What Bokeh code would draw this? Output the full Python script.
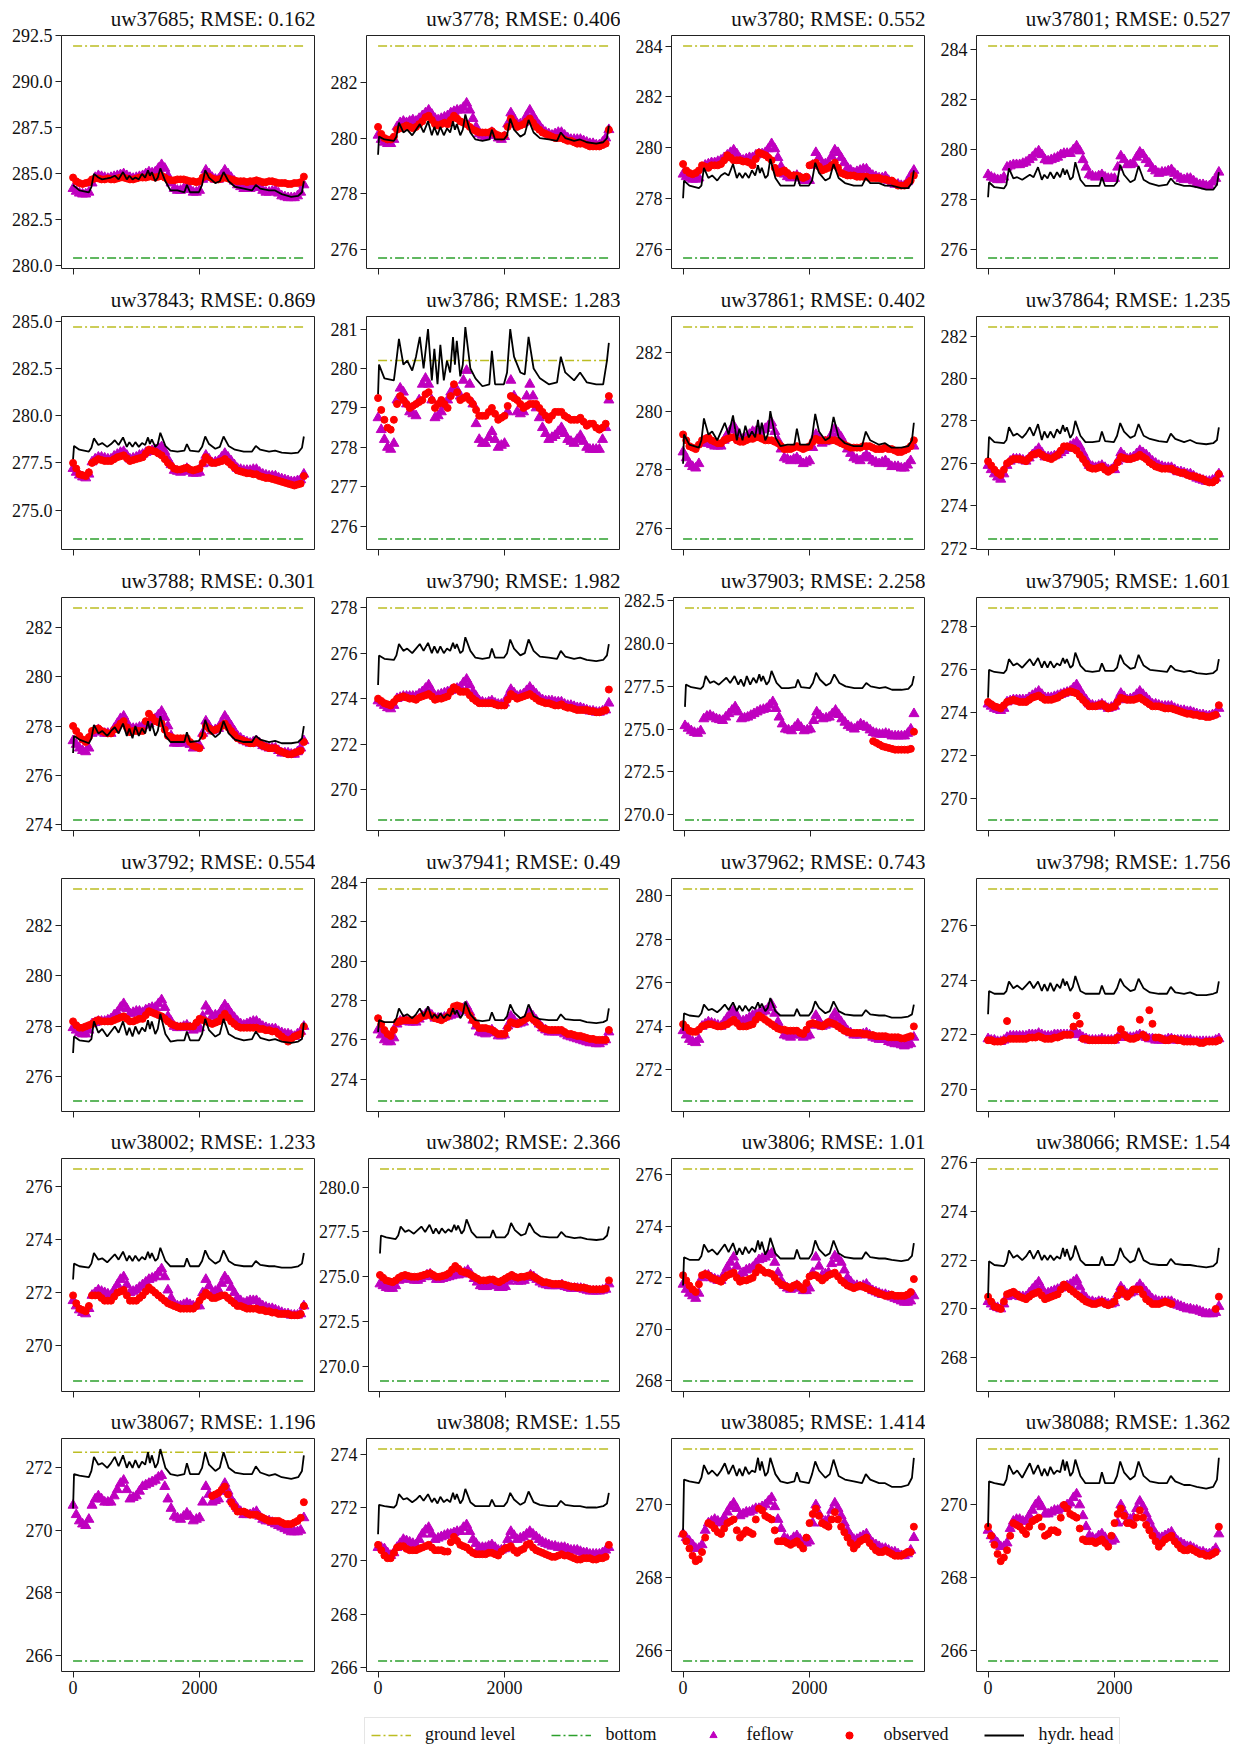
import math

from bokeh.embed import file_html
from bokeh.layouts import column, row
from bokeh.models import (CustomJSTickFormatter, FixedTicker, Legend, LegendItem,
                          PrintfTickFormatter, Range1d)
from bokeh.plotting import figure
from bokeh.resources import INLINE

nan = float("nan")

# ---------------------------------------------------------------- time axes (days)
T_HEAD = [0, 15, 100, 250, 290, 330, 400, 460, 540, 600,
          660, 720, 790, 850, 890, 940, 985, 1040, 1090, 1140,
          1185, 1215, 1245, 1300, 1340, 1380, 1460, 1540, 1650, 1760,
          1800, 1850, 1990, 2040, 2090, 2150, 2250, 2320, 2380, 2460,
          2560, 2700, 2830, 2890, 2960, 3100, 3195, 3300, 3450, 3560,
          3620, 3650]

T_PTS = [0, 100, 200, 300, 400, 500, 600, 700, 800, 900,
         1000, 1100, 1200, 1300, 1400, 1500, 1600, 1700, 1800, 1900,
         2000, 2100, 2200, 2300, 2400, 2500, 2600, 2700, 2800, 2900,
         3000, 3100, 3200, 3300, 3400, 3500, 3600, 3650]

T_MID = [50, 150, 250, 350, 450, 550, 650, 750, 850, 950,
         1050, 1150, 1250, 1350, 1450, 1550, 1650, 1750, 1850, 1950,
         2050, 2150, 2250, 2350, 2450, 2550, 2650, 2750, 2850, 2950,
         3050, 3150, 3250, 3350, 3450, 3550]

# ---------------------------------------------------------------- wells
WELLS = ["uw37685", "uw3778", "uw3780", "uw37801",
         "uw37843", "uw3786", "uw37861", "uw37864",
         "uw3788", "uw3790", "uw37903", "uw37905",
         "uw3792", "uw37941", "uw37962", "uw3798",
         "uw38002", "uw3802", "uw3806", "uw38066",
         "uw38067", "uw3808", "uw38085", "uw38088"]

RMSE = ["0.162", "0.406", "0.552", "0.527",
        "0.869", "1.283", "0.402", "1.235",
        "0.301", "1.982", "2.258", "1.601",
        "0.554", "0.49", "0.743", "1.756",
        "1.233", "2.366", "1.01", "1.54",
        "1.196", "1.55", "1.414", "1.362"]

GROUND = [291.95, 283.3, 284.0, 284.15,
          284.7, 280.2, 282.87, 282.42,
          282.8, 277.98, 282.07, 278.88,
          283.44, 283.66, 280.3, 277.33,
          276.67, 281.0, 276.22, 275.73,
          272.5, 274.19, 271.54, 271.54]

BOTTOM = [280.43, 275.7, 275.65, 275.67,
          273.47, 275.68, 275.63, 272.44,
          274.18, 268.67, 269.7, 269.0,
          275.05, 272.9, 270.58, 269.58,
          268.67, 269.2, 268.0, 267.05,
          265.82, 266.25, 265.7, 265.7]

YTICKS = [
    ["280.0", "282.5", "285.0", "287.5", "290.0", "292.5"],
    ["276", "278", "280", "282"],
    ["276", "278", "280", "282", "284"],
    ["276", "278", "280", "282", "284"],
    ["275.0", "277.5", "280.0", "282.5", "285.0"],
    ["276", "277", "278", "279", "280", "281"],
    ["276", "278", "280", "282"],
    ["272", "274", "276", "278", "280", "282"],
    ["274", "276", "278", "280", "282"],
    ["270", "272", "274", "276", "278"],
    ["270.0", "272.5", "275.0", "277.5", "280.0", "282.5"],
    ["270", "272", "274", "276", "278"],
    ["276", "278", "280", "282"],
    ["274", "276", "278", "280", "282", "284"],
    ["272", "274", "276", "278", "280"],
    ["270", "272", "274", "276"],
    ["270", "272", "274", "276"],
    ["270.0", "272.5", "275.0", "277.5", "280.0"],
    ["268", "270", "272", "274", "276"],
    ["268", "270", "272", "274", "276"],
    ["266", "268", "270", "272"],
    ["266", "268", "270", "272", "274"],
    ["266", "268", "270"],
    ["266", "268", "270"],
]
XTICKS = [0, 2000]

# ---------------------------------------------------------------- series per well
UW37685_HEAD = [284.4, 284.35, 284.1, 284.0, 284.3, 285.0, 284.8, 284.7, 284.75, 284.8,
                284.9, 284.7, 285.1, 284.7, 284.9, 284.7, 284.8, 284.7, 285.0, 284.8,
                285.2, 284.9, 285.1, 284.6, 284.8, 285.3, 284.6, 284.1, 284.1, 284.0,
                284.4, 284.0, 284.0, 284.4, 285.2, 284.8, 284.5, 284.6, 285.1, 284.6,
                284.3, 284.2, 284.1, 284.4, 284.2, 284.1, 284.1, 283.9, 283.75, 283.8,
                284.0, 284.6]
UW37685_FEFLOW = [284.2, 283.95, 283.9, 284.5, 284.9, 284.8, 284.8, 284.9, 285.0, 284.8,
                  284.8, 284.9, 285.1, 285.1, 285.5, 284.9, 284.2, 284.1, 284.3, 284.0,
                  284.1, 285.2, 284.8, 284.7, 285.2, 284.8, 284.4, 284.2, 284.2, 284.4,
                  284.1, 284.0, 284.1, 283.8, 283.7, 283.7, 284.0, 284.4]
UW37685_FEFLOW_MID = [284.05, 283.9, 284.0, 284.8, 284.85, 284.75, 284.85, 284.95, 284.9, 284.75,
                      284.85, 285.0, 285.05, 285.3, 285.3, 284.5, 284.1, 284.2, 284.15, 284.0,
                      284.7, 285.0, 284.7, 284.95, 285.0, 284.6, 284.3, 284.2, 284.3, 284.25,
                      284.0, 284.05, 283.95, 283.75, 283.7, 283.8]
UW37685_OBS = [284.8, 284.5, 284.5, 284.7, 284.75, 284.7, 284.7, 284.75, 284.8, 284.7,
               284.75, 284.8, 284.85, 284.8, 284.9, 284.7, 284.65, 284.7, 284.65, 284.6,
               284.6, 284.9, 284.75, 284.7, 284.8, 284.7, 284.6, 284.6, 284.6, 284.65,
               284.55, 284.6, 284.55, 284.5, 284.45, 284.5, 284.55, 284.85]
UW37685_OBS_MID = [284.6, 284.45, 284.55, 284.75, 284.7, 284.75, 284.7, 284.8, 284.75, 284.7,
                   284.8, 284.8, 284.85, 284.85, 284.8, 284.65, 284.7, 284.7, 284.6, 284.55,
                   284.8, 284.85, 284.7, 284.75, 284.75, 284.65, 284.6, 284.55, 284.6, 284.6,
                   284.55, 284.6, 284.5, 284.5, 284.45, 284.5]

UW3778_HEAD = [279.4, 280.05, 279.95, 279.9, 280.05, 280.55, 280.2, 280.3, 280.1, 280.3,
               280.5, 280.2, 280.6, 280.1, 280.4, 280.1, 280.4, 280.1, 280.35, 280.2,
               280.6, 280.3, 280.5, 280.1, 280.3, 280.85, 280.2, 279.95, 279.9, 279.95,
               280.3, 279.95, 279.95, 280.1, 280.7, 280.3, 280.05, 280.15, 280.65, 280.2,
               280.0, 279.95, 279.9, 280.2, 280.0, 279.9, 279.95, 279.85, 279.8, 279.85,
               280.0, 280.45]
UW3778_FEFLOW = [280.1, 279.85, 279.8, 280.4, 280.6, 280.6, 280.6, 280.8, 281.0, 280.7,
                 280.7, 280.8, 280.95, 281.0, 281.25, 280.7, 280.15, 280.05, 280.2, 280.0,
                 280.05, 280.9, 280.5, 280.55, 281.0, 280.6, 280.3, 280.15, 280.15, 280.2,
                 280.0, 279.95, 279.95, 279.85, 279.8, 279.75, 280.0, 280.3]
UW3778_FEFLOW_MID = [279.95, 279.8, 279.95, 280.55, 280.55, 280.65, 280.7, 280.9, 280.85, 280.65,
                     280.75, 280.9, 281.0, 281.1, 281.0, 280.4, 280.1, 280.1, 280.1, 279.95,
                     280.5, 280.7, 280.5, 280.8, 280.8, 280.45, 280.2, 280.1, 280.2, 280.1,
                     279.95, 279.95, 279.9, 279.8, 279.75, 279.85]
UW3778_OBS = [280.4, 280.0, 279.95, 280.3, 280.4, 280.4, 280.4, 280.6, 280.8, 280.5,
              280.5, 280.5, 280.8, 280.6, 280.5, 280.3, 280.2, 280.2, 280.25, 280.1,
              280.1, 280.7, 280.4, 280.5, 280.7, 280.4, 280.2, 280.1, 280.0, 280.0,
              279.9, 279.85, 279.8, 279.75, 279.7, 279.7, 279.8, 280.3]
UW3778_OBS_MID = [280.15, 279.95, 280.05, 280.35, 280.45, 280.35, 280.5, 280.75, 280.65, 280.45,
                  280.55, 280.65, 280.7, 280.55, 280.4, 280.25, 280.2, 280.2, 280.15, 280.05,
                  280.4, 280.55, 280.45, 280.6, 280.55, 280.3, 280.15, 280.05, 280.0, 279.95,
                  279.9, 279.8, 279.8, 279.7, 279.7, 279.75]

UW3780_HEAD = [278.0, 278.7, 278.5, 278.4, 278.5, 279.2, 278.8, 278.9, 278.7, 278.9,
               279.0, 278.9, 279.35, 278.8, 279.0, 278.8, 279.0, 278.8, 279.1, 278.9,
               279.3, 279.0, 279.2, 278.8, 278.9, 279.55, 278.8, 278.5, 278.5, 278.5,
               278.9, 278.5, 278.5, 278.7, 279.4, 279.0, 278.7, 278.8, 279.35, 278.8,
               278.6, 278.5, 278.5, 278.8, 278.6, 278.6, 278.5, 278.5, 278.4, 278.4,
               278.6, 279.1]
UW3780_FEFLOW = [278.95, 278.8, 278.75, 279.2, 279.35, 279.4, 279.5, 279.7, 279.9, 279.55,
                 279.55, 279.6, 279.75, 279.8, 280.15, 279.6, 278.95, 278.8, 278.9, 278.7,
                 278.7, 279.8, 279.35, 279.4, 279.9, 279.6, 279.2, 279.0, 279.1, 279.15,
                 278.9, 278.8, 278.85, 278.6, 278.55, 278.5, 278.9, 279.1]
UW3780_FEFLOW_MID = [278.85, 278.75, 278.8, 279.3, 279.4, 279.45, 279.6, 279.8, 279.75, 279.5,
                     279.6, 279.7, 279.75, 279.95, 279.95, 279.25, 278.85, 278.85, 278.8, 278.7,
                     279.3, 279.6, 279.35, 279.65, 279.8, 279.4, 279.1, 279.05, 279.15, 279.0,
                     278.85, 278.8, 278.7, 278.55, 278.5, 278.65]
UW3780_OBS = [279.35, 279.0, 279.0, 279.3, 279.2, 279.3, 279.35, 279.7, 279.5, 279.5,
              279.45, 279.3, 279.8, 279.7, 279.5, 279.0, 279.1, 278.9, 278.9, 278.8,
              279.3, 279.4, 279.1, 279.2, 279.4, 279.0, 278.9, 278.9, 278.85, 278.85,
              278.8, 278.8, 278.75, 278.7, 278.5, 278.5, 278.7, 278.9]
UW3780_OBS_MID = [279.1, 278.95, 279.1, 279.25, 279.3, 279.3, 279.5, 279.6, 279.5, 279.45,
                  279.4, 279.55, 279.75, 279.6, 279.2, 279.05, 279.0, 278.9, 278.85, 278.85,
                  279.35, 279.25, 279.15, 279.3, 279.2, 278.95, 278.9, 278.85, 278.85, 278.8,
                  278.8, 278.75, 278.7, 278.6, 278.5, 278.6]

UW37801_HEAD = [278.1, 278.7, 278.5, 278.45, 278.6, 279.25, 278.85, 278.9, 278.8, 278.9,
                279.0, 278.9, 279.3, 278.8, 279.0, 278.85, 279.1, 278.85, 279.1, 278.9,
                279.25, 279.0, 279.2, 278.8, 278.9, 279.5, 278.8, 278.55, 278.55, 278.55,
                278.9, 278.55, 278.55, 278.7, 279.4, 279.0, 278.7, 278.8, 279.35, 278.8,
                278.65, 278.55, 278.6, 278.85, 278.65, 278.55, 278.55, 278.5, 278.4, 278.4,
                278.6, 279.1]
UW37801_FEFLOW = [279.0, 278.85, 278.8, 279.3, 279.4, 279.4, 279.5, 279.7, 279.95, 279.6,
                  279.6, 279.7, 279.85, 279.85, 280.15, 279.6, 279.0, 278.9, 279.0, 278.85,
                  278.85, 279.75, 279.4, 279.45, 279.9, 279.6, 279.25, 279.05, 279.1, 279.2,
                  278.95, 278.8, 278.85, 278.65, 278.6, 278.55, 278.85, 279.1]
UW37801_FEFLOW_MID = [278.9, 278.8, 278.9, 279.35, 279.4, 279.45, 279.6, 279.85, 279.8, 279.55,
                      279.65, 279.8, 279.85, 280.0, 279.95, 279.3, 278.95, 278.95, 278.9, 278.85,
                      279.3, 279.6, 279.4, 279.7, 279.8, 279.45, 279.15, 279.1, 279.15, 279.05,
                      278.85, 278.85, 278.75, 278.6, 278.55, 278.7]
UW37801_OBS = []
UW37801_OBS_MID = []

UW37843_HEAD = [277.7, 278.4, 278.2, 278.1, 278.3, 278.8, 278.45, 278.55, 278.35, 278.5,
                278.7, 278.45, 278.85, 278.35, 278.6, 278.35, 278.6, 278.35, 278.55, 278.45,
                278.85, 278.5, 278.75, 278.35, 278.5, 279.1, 278.4, 278.15, 278.1, 278.15,
                278.5, 278.15, 278.1, 278.35, 278.9, 278.5, 278.25, 278.35, 278.9, 278.4,
                278.2, 278.1, 278.1, 278.4, 278.2, 278.1, 278.15, 278.05, 278.0, 278.05,
                278.3, 278.9]
UW37843_FEFLOW = [277.2, 276.85, 276.7, 277.55, 277.8, 277.75, 277.7, 277.95, 278.1, 277.7,
                  277.8, 277.95, 278.1, 278.2, 278.35, 277.7, 277.1, 277.0, 277.2, 276.95,
                  277.0, 277.9, 277.5, 277.6, 278.0, 277.6, 277.2, 277.1, 277.1, 277.15,
                  276.9, 276.8, 276.8, 276.65, 276.55, 276.5, 276.6, 276.9]
UW37843_FEFLOW_MID = [277.0, 276.75, 276.9, 277.7, 277.8, 277.7, 277.85, 278.05, 277.9, 277.75,
                      277.9, 278.05, 278.15, 278.3, 278.1, 277.4, 277.05, 277.1, 277.05, 276.95,
                      277.45, 277.7, 277.55, 277.8, 277.8, 277.4, 277.15, 277.1, 277.15, 277.0,
                      276.85, 276.8, 276.7, 276.6, 276.5, 276.55]
UW37843_OBS = [277.5, 276.9, 276.8, 277.5, 277.7, 277.6, 277.6, 277.8, 277.9, 277.6,
               277.7, 277.8, 278.2, 278.1, 277.9, 277.5, 277.2, 277.15, 277.25, 277.1,
               277.2, 277.8, 277.5, 277.55, 277.7, 277.4, 277.1, 277.0, 276.95, 276.9,
               276.75, 276.7, 276.6, 276.5, 276.4, 276.3, 276.4, 276.8]
UW37843_OBS_MID = [277.2, 276.85, 277.0, 277.6, 277.65, 277.6, 277.7, 277.85, 277.75, 277.65,
                   277.75, 278.0, 278.15, 278.0, 277.7, 277.35, 277.15, 277.2, 277.15, 277.15,
                   277.5, 277.65, 277.5, 277.6, 277.55, 277.25, 277.05, 276.95, 276.9, 276.8,
                   276.7, 276.65, 276.55, 276.45, 276.35, 276.35]

UW3786_HEAD = [279.35, 280.1, 279.75, 279.7, 280.2, 280.75, 280.1, 280.2, 279.95, 280.3,
               280.8, 280.0, 281.0, 279.7, 280.5, 279.6, 280.6, 279.7, 280.2, 279.9,
               280.8, 280.1, 280.7, 279.8, 280.1, 281.05, 280.0, 279.75, 279.55, 279.6,
               280.45, 279.6, 279.6, 279.9, 281.0, 280.3, 279.9, 279.85, 280.8, 280.0,
               279.75, 279.6, 279.65, 280.3, 279.9, 279.7, 279.9, 279.65, 279.6, 279.6,
               280.2, 280.65]
UW3786_FEFLOW = [278.75, 278.2, 277.95, 279.2, 279.4, 278.9, 278.8, 279.6, 279.6, 278.75,
                 278.9, 279.2, 279.5, 279.3, 279.95, 279.1, 278.2, 278.1, 278.4, 278.0,
                 278.1, 279.7, 278.9, 278.9, 279.6, 279.0, 278.5, 278.2, 278.3, 278.5,
                 278.2, 278.1, 278.3, 278.0, 277.95, 277.95, 278.5, 279.2]
UW3786_FEFLOW_MID = [278.45, 278.0, 278.1, 279.5, 279.1, 278.85, 279.2, 279.75, 279.2, 278.8,
                     279.05, 279.4, 279.45, 279.7, 279.6, 278.6, 278.1, 278.25, 278.2, 278.05,
                     278.9, 279.3, 278.85, 279.3, 279.3, 278.75, 278.35, 278.25, 278.4, 278.35,
                     278.15, 278.2, 278.15, 277.95, 277.95, 278.2]
UW3786_OBS = [279.25, 278.7, 278.45, 279.1, 279.2, 279.0, 279.1, 279.2, 279.4, 279.0,
              279.2, 279.0, 279.6, 279.2, 279.3, 279.1, 278.8, 278.8, 279.0, 278.7,
              278.8, 279.3, 279.2, 279.0, 279.1, 279.1, 278.9, 278.7, 278.9, 278.9,
              278.75, 278.7, 278.75, 278.55, 278.6, 278.45, 278.6, 279.3]
UW3786_OBS_MID = [278.95, 278.5, 278.7, 279.3, 279.1, 279.05, 279.15, 279.35, 279.2, 279.1,
                  279.1, 279.3, 279.4, 279.25, 279.2, 278.95, 278.8, 278.9, 278.85, 278.75,
                  279.05, 279.25, 279.1, 279.05, 279.1, 279.0, 278.8, 278.8, 278.9, 278.8,
                  278.7, 278.7, 278.65, 278.6, 278.5, 278.5]

UW37861_HEAD = [278.2, 279.2, 278.85, 278.75, 279.0, 279.75, 279.2, 279.3, 279.0, 279.3,
                279.6, 279.2, 279.85, 279.0, 279.4, 279.0, 279.5, 279.1, 279.3, 279.1,
                279.7, 279.2, 279.6, 279.0, 279.2, 280.0, 279.1, 278.8, 278.85, 278.85,
                279.4, 278.85, 278.85, 279.1, 279.9, 279.3, 279.0, 279.1, 279.8, 279.1,
                278.9, 278.8, 278.8, 279.3, 279.0, 278.85, 278.9, 278.75, 278.75, 278.8,
                279.0, 279.6]
UW37861_FEFLOW = [278.6, 278.2, 278.05, 278.9, 278.9, 278.8, 278.8, 279.2, 279.5, 279.0,
                  279.1, 279.3, 279.3, 279.4, 279.6, 279.0, 278.4, 278.3, 278.4, 278.2,
                  278.3, 279.2, 278.9, 279.0, 279.4, 279.1, 278.7, 278.4, 278.3, 278.5,
                  278.3, 278.2, 278.3, 278.1, 278.1, 278.05, 278.3, 278.8]
UW37861_FEFLOW_MID = [278.4, 278.1, 278.2, 279.0, 278.85, 278.8, 279.0, 279.35, 279.25, 279.05,
                      279.2, 279.3, 279.35, 279.5, 279.3, 278.7, 278.35, 278.35, 278.3, 278.25,
                      278.75, 279.05, 278.95, 279.2, 279.25, 278.9, 278.55, 278.35, 278.4, 278.4,
                      278.25, 278.25, 278.2, 278.1, 278.05, 278.15]
UW37861_OBS = [279.2, 278.8, 278.7, 279.0, 279.1, 278.95, 278.9, 279.05, 279.1, 278.95,
               279.0, 279.05, 279.1, 279.0, 279.0, 278.9, 278.7, 278.7, 278.8, 278.7,
               278.8, 279.05, 279.0, 279.0, 279.0, 278.9, 278.8, 278.75, 278.75, 278.8,
               278.75, 278.7, 278.75, 278.7, 278.6, 278.65, 278.8, 279.0]
UW37861_OBS_MID = [279.0, 278.75, 278.85, 279.05, 279.0, 278.9, 279.0, 279.1, 279.0, 278.95,
                   279.05, 279.1, 279.05, 279.0, 278.95, 278.8, 278.7, 278.75, 278.75, 278.75,
                   278.95, 279.0, 279.0, 279.0, 278.95, 278.85, 278.75, 278.75, 278.8, 278.8,
                   278.7, 278.7, 278.7, 278.65, 278.6, 278.7]

UW37864_HEAD = [276.25, 277.25, 277.0, 276.95, 277.1, 277.7, 277.3, 277.4, 277.2, 277.4,
                277.7, 277.3, 277.85, 277.1, 277.5, 277.2, 277.5, 277.2, 277.6, 277.4,
                277.8, 277.5, 277.7, 277.2, 277.4, 278.0, 277.3, 277.0, 277.0, 277.05,
                277.5, 277.05, 277.0, 277.3, 277.9, 277.5, 277.2, 277.3, 277.85, 277.3,
                277.15, 277.05, 277.0, 277.4, 277.15, 277.0, 277.1, 276.95, 276.9, 276.95,
                277.1, 277.7]
UW37864_FEFLOW = [275.9, 275.5, 275.25, 275.9, 276.2, 276.2, 276.1, 276.4, 276.7, 276.3,
                  276.3, 276.4, 276.6, 276.8, 277.0, 276.5, 275.9, 275.8, 275.9, 275.7,
                  275.7, 276.5, 276.2, 276.3, 276.6, 276.4, 276.1, 275.9, 275.8, 275.8,
                  275.6, 275.55, 275.5, 275.3, 275.2, 275.15, 275.3, 275.5]
UW37864_FEFLOW_MID = [275.7, 275.35, 275.5, 276.1, 276.2, 276.15, 276.25, 276.55, 276.5, 276.3,
                      276.35, 276.5, 276.7, 276.9, 276.8, 276.2, 275.85, 275.85, 275.8, 275.7,
                      276.1, 276.35, 276.25, 276.45, 276.5, 276.25, 276.0, 275.85, 275.8, 275.7,
                      275.6, 275.5, 275.4, 275.25, 275.15, 275.2]
UW37864_OBS = [276.1, 275.7, 275.45, 276.0, 276.2, 276.2, 276.1, 276.4, 276.5, 276.3,
               276.2, 276.4, 276.8, 276.75, 276.6, 276.2, 275.8, 275.75, 275.85, 275.6,
               275.8, 276.3, 276.2, 276.25, 276.4, 276.2, 275.95, 275.8, 275.75, 275.75,
               275.6, 275.55, 275.4, 275.35, 275.25, 275.1, 275.2, 275.5]
UW37864_OBS_MID = [275.9, 275.55, 275.7, 276.1, 276.2, 276.15, 276.25, 276.45, 276.4, 276.25,
                   276.3, 276.6, 276.8, 276.7, 276.4, 276.0, 275.75, 275.8, 275.7, 275.7,
                   276.05, 276.25, 276.2, 276.3, 276.3, 276.05, 275.85, 275.75, 275.75, 275.65,
                   275.55, 275.45, 275.4, 275.3, 275.15, 275.1]

UW3788_HEAD = [276.9, 277.6, 277.45, 277.3, 277.5, 278.05, 277.7, 277.8, 277.6, 277.8,
               277.95, 277.7, 278.1, 277.6, 277.9, 277.5, 278.0, 277.6, 277.9, 277.7,
               278.2, 277.8, 278.1, 277.6, 277.8, 278.4, 277.6, 277.35, 277.35, 277.35,
               277.75, 277.35, 277.4, 277.6, 278.25, 277.8, 277.55, 277.7, 278.2, 277.7,
               277.45, 277.35, 277.35, 277.6, 277.45, 277.35, 277.4, 277.3, 277.3, 277.35,
               277.5, 278.0]
UW3788_FEFLOW = [277.4, 277.1, 276.95, 277.7, 277.85, 277.7, 277.7, 278.1, 278.4, 277.9,
                 277.9, 278.0, 278.1, 278.3, 278.6, 278.0, 277.3, 277.3, 277.4, 277.1,
                 277.2, 278.2, 277.8, 277.9, 278.4, 278.0, 277.6, 277.4, 277.3, 277.4,
                 277.2, 277.1, 277.1, 276.9, 276.9, 276.85, 277.1, 277.4]
UW3788_FEFLOW_MID = [277.25, 277.0, 277.1, 277.8, 277.75, 277.7, 277.9, 278.3, 278.15, 277.9,
                     277.95, 278.05, 278.2, 278.45, 278.35, 277.6, 277.3, 277.35, 277.25, 277.15,
                     277.7, 278.0, 277.85, 278.15, 278.2, 277.8, 277.5, 277.35, 277.35, 277.3,
                     277.15, 277.1, 277.0, 276.9, 276.85, 276.95]
UW3788_OBS = [278.0, 277.6, 277.35, 277.8, 277.9, 277.75, 277.7, 277.95, 278.2, 277.75,
              277.8, 277.8, 278.5, 278.2, 278.1, 277.6, 277.5, 277.5, 277.5, 277.2,
              277.1, 278.0, 277.8, 277.9, 278.1, 277.8, 277.5, 277.4, 277.3, 277.35,
              277.2, 277.1, 277.1, 276.95, 276.85, 276.9, 277.0, 277.35]
UW3788_OBS_MID = [277.8, 277.45, 277.55, 277.85, 277.8, 277.7, 277.85, 278.1, 277.95, 277.8,
                  277.8, 278.2, 278.35, 278.15, 277.85, 277.55, 277.5, 277.5, 277.35, 277.15,
                  277.6, 277.9, 277.85, 278.0, 277.95, 277.65, 277.45, 277.35, 277.3, 277.3,
                  277.15, 277.1, 277.0, 276.9, 276.85, 276.95]

UW3790_HEAD = [274.6, 275.9, 275.75, 275.7, 275.9, 276.4, 276.1, 276.2, 276.0, 276.2,
               276.4, 276.1, 276.45, 276.0, 276.3, 276.0, 276.3, 276.0, 276.2, 276.1,
               276.45, 276.2, 276.4, 276.0, 276.1, 276.7, 276.1, 275.8, 275.75, 275.8,
               276.2, 275.8, 275.8, 276.0, 276.6, 276.2, 275.9, 276.0, 276.6, 276.1,
               275.85, 275.8, 275.75, 276.1, 275.85, 275.75, 275.8, 275.7, 275.65, 275.7,
               275.9, 276.4]
UW3790_FEFLOW = [273.9, 273.7, 273.55, 274.0, 274.1, 274.1, 274.1, 274.3, 274.6, 274.1,
                 274.2, 274.3, 274.4, 274.5, 274.85, 274.3, 273.9, 273.8, 273.9, 273.75,
                 273.8, 274.4, 274.1, 274.2, 274.5, 274.2, 273.95, 273.9, 273.85, 273.85,
                 273.7, 273.65, 273.6, 273.5, 273.45, 273.4, 273.5, 273.8]
UW3790_FEFLOW_MID = [273.8, 273.6, 273.7, 274.05, 274.1, 274.1, 274.2, 274.45, 274.35, 274.15,
                     274.25, 274.35, 274.45, 274.7, 274.6, 274.1, 273.85, 273.85, 273.8, 273.75,
                     274.1, 274.25, 274.15, 274.35, 274.35, 274.05, 273.9, 273.9, 273.85, 273.75,
                     273.7, 273.6, 273.55, 273.45, 273.4, 273.45]
UW3790_OBS = [274.0, 273.8, 273.7, 274.0, 274.1, 274.0, 273.95, 274.1, 274.2, 273.95,
              274.0, 274.1, 274.5, 274.3, 274.3, 274.0, 273.8, 273.8, 273.8, 273.7,
              273.7, 274.2, 274.0, 274.1, 274.2, 274.0, 273.85, 273.8, 273.7, 273.75,
              273.6, 273.55, 273.5, 273.5, 273.45, 273.4, 273.5, 274.4]
UW3790_OBS_MID = [273.9, 273.75, 273.85, 274.05, 274.05, 274.0, 274.05, 274.15, 274.1, 274.0,
                  274.05, 274.3, 274.4, 274.3, 274.15, 273.9, 273.8, 273.8, 273.75, 273.7,
                  273.95, 274.1, 274.05, 274.15, 274.1, 273.9, 273.8, 273.75, 273.7, 273.65,
                  273.6, 273.5, 273.5, 273.45, 273.4, 273.45]

UW37903_HEAD = [276.3, 277.6, 277.45, 277.35, 277.5, 278.1, 277.7, 277.8, 277.6, 277.8,
                278.0, 277.7, 278.1, 277.6, 277.9, 277.5, 278.1, 277.6, 278.0, 277.7,
                278.2, 277.8, 278.1, 277.6, 277.8, 278.4, 277.7, 277.4, 277.4, 277.45,
                277.9, 277.45, 277.4, 277.7, 278.3, 277.9, 277.55, 277.7, 278.2, 277.7,
                277.5, 277.4, 277.4, 277.7, 277.5, 277.4, 277.45, 277.3, 277.3, 277.35,
                277.6, 278.1]
UW37903_FEFLOW = [275.2, 274.9, 274.75, 275.6, 275.8, 275.6, 275.5, 275.9, 276.3, 275.6,
                  275.7, 275.9, 276.1, 276.2, 276.6, 275.7, 275.0, 274.9, 275.3, 274.9,
                  275.0, 276.0, 275.6, 275.7, 276.1, 275.6, 275.2, 275.0, 275.3, 275.1,
                  274.8, 274.7, 274.75, 274.6, 274.6, 274.6, 275.0, 275.9]
UW37903_FEFLOW_MID = [275.05, 274.8, 274.9, 275.75, 275.7, 275.55, 275.7, 276.1, 276.0, 275.65,
                      275.8, 276.0, 276.15, 276.4, 276.2, 275.3, 274.95, 275.1, 275.1, 274.95,
                      275.5, 275.8, 275.65, 275.9, 275.85, 275.4, 275.1, 275.15, 275.2, 274.95,
                      274.75, 274.7, 274.7, 274.6, 274.6, 274.75]
UW37903_OBS = [nan, nan, nan, nan, nan, nan, nan, nan, nan, nan,
               nan, nan, nan, nan, nan, nan, nan, nan, nan, nan,
               nan, nan, nan, nan, nan, nan, nan, nan, nan, nan,
               274.3, 274.1, 273.95, 273.85, 273.8, 273.8, 273.85, 274.85]
UW37903_OBS_MID = [nan, nan, nan, nan, nan, nan, nan, nan, nan, nan,
                   nan, nan, nan, nan, nan, nan, nan, nan, nan, nan,
                   nan, nan, nan, nan, nan, nan, nan, nan, nan, nan,
                   274.2, 274.0, 273.9, 273.8, 273.8, 273.8]

UW37905_HEAD = [274.7, 276.0, 275.9, 275.85, 276.0, 276.5, 276.2, 276.3, 276.1, 276.3,
                276.5, 276.2, 276.55, 276.1, 276.4, 276.1, 276.4, 276.1, 276.3, 276.2,
                276.55, 276.3, 276.5, 276.1, 276.2, 276.8, 276.2, 275.95, 275.9, 275.95,
                276.3, 275.95, 275.95, 276.1, 276.7, 276.3, 276.05, 276.1, 276.7, 276.2,
                276.0, 275.95, 275.9, 276.2, 276.0, 275.9, 275.95, 275.85, 275.8, 275.85,
                276.0, 276.5]
UW37905_FEFLOW = [274.4, 274.2, 274.1, 274.5, 274.6, 274.6, 274.6, 274.8, 275.0, 274.7,
                  274.7, 274.8, 274.9, 275.0, 275.3, 274.8, 274.4, 274.3, 274.4, 274.2,
                  274.3, 274.9, 274.6, 274.7, 275.0, 274.7, 274.4, 274.35, 274.3, 274.3,
                  274.15, 274.1, 274.05, 273.95, 273.9, 273.85, 273.95, 274.2]
UW37905_FEFLOW_MID = [274.3, 274.15, 274.2, 274.55, 274.6, 274.6, 274.7, 274.9, 274.85, 274.7,
                      274.75, 274.85, 274.95, 275.15, 275.05, 274.6, 274.35, 274.35, 274.3, 274.25,
                      274.6, 274.75, 274.65, 274.85, 274.85, 274.55, 274.4, 274.3, 274.3, 274.2,
                      274.1, 274.05, 274.0, 273.9, 273.85, 273.9]
UW37905_OBS = [274.5, 274.3, 274.2, 274.5, 274.6, 274.5, 274.5, 274.7, 274.8, 274.6,
               274.6, 274.7, 274.9, 275.0, 274.9, 274.6, 274.3, 274.3, 274.4, 274.2,
               274.3, 274.7, 274.6, 274.6, 274.7, 274.5, 274.3, 274.3, 274.2, 274.2,
               274.1, 274.0, 273.95, 273.9, 273.85, 273.8, 273.9, 274.35]
UW37905_OBS_MID = [274.4, 274.25, 274.35, 274.55, 274.55, 274.5, 274.6, 274.75, 274.7, 274.6,
                   274.65, 274.8, 274.95, 274.95, 274.75, 274.45, 274.3, 274.35, 274.3, 274.25,
                   274.5, 274.65, 274.6, 274.65, 274.6, 274.4, 274.3, 274.25, 274.2, 274.15,
                   274.05, 273.95, 273.9, 273.85, 273.8, 273.85]

UW3792_HEAD = [276.95, 277.6, 277.45, 277.4, 277.5, 278.2, 277.75, 277.9, 277.6, 277.8,
               278.0, 277.75, 278.2, 277.65, 277.95, 277.6, 278.0, 277.7, 277.95, 277.8,
               278.25, 277.9, 278.2, 277.7, 277.9, 278.5, 277.7, 277.4, 277.45, 277.45,
               277.8, 277.45, 277.45, 277.7, 278.3, 277.85, 277.6, 277.7, 278.3, 277.7,
               277.55, 277.45, 277.5, 277.8, 277.55, 277.45, 277.5, 277.4, 277.35, 277.4,
               277.5, 278.15]
UW3792_FEFLOW = [277.95, 277.75, 277.7, 278.1, 278.2, 278.2, 278.3, 278.55, 278.9, 278.5,
                 278.6, 278.55, 278.7, 278.75, 279.05, 278.4, 278.0, 277.95, 278.05, 277.85,
                 277.95, 278.8, 278.4, 278.45, 278.85, 278.5, 278.2, 278.05, 278.15, 278.2,
                 278.0, 277.9, 277.9, 277.75, 277.7, 277.6, 277.8, 278.0]
UW3792_FEFLOW_MID = [277.85, 277.7, 277.85, 278.15, 278.2, 278.25, 278.45, 278.75, 278.7, 278.55,
                     278.6, 278.65, 278.75, 278.9, 278.75, 278.2, 277.95, 278.0, 277.95, 277.9,
                     278.4, 278.6, 278.45, 278.65, 278.7, 278.35, 278.1, 278.1, 278.2, 278.1,
                     277.95, 277.9, 277.8, 277.7, 277.65, 277.7]
UW3792_OBS = [278.2, 277.95, 278.0, 278.1, 278.25, 278.2, 278.2, 278.3, 278.4, 278.2,
              278.25, 278.3, 278.6, 278.5, 278.4, 278.2, 278.05, 278.0, 278.0, 278.0,
              278.3, 278.2, 278.1, 278.2, 278.5, 278.2, 278.0, 277.95, 277.95, 277.95,
              277.9, 277.85, 277.8, 277.6, 277.4, 277.6, 277.7, 278.0]
UW3792_OBS_MID = [278.05, 277.95, 278.05, 278.2, 278.2, 278.2, 278.25, 278.35, 278.3, 278.2,
                  278.3, 278.45, 278.55, 278.45, 278.3, 278.1, 278.0, 278.0, 278.0, 278.15,
                  278.25, 278.15, 278.15, 278.35, 278.35, 278.1, 277.95, 277.95, 277.95, 277.9,
                  277.85, 277.8, 277.7, 277.5, 277.5, 277.65]

UW37941_HEAD = [276.4, 277.0, 276.9, 276.9, 277.1, 277.6, 277.2, 277.3, 277.1, 277.3,
                277.6, 277.2, 277.7, 277.1, 277.3, 277.1, 277.35, 277.1, 277.3, 277.2,
                277.6, 277.3, 277.5, 277.1, 277.3, 277.95, 277.3, 277.0, 276.95, 277.0,
                277.4, 277.0, 277.0, 277.2, 277.8, 277.4, 277.1, 277.2, 277.8, 277.2,
                277.05, 277.0, 277.0, 277.3, 277.05, 277.0, 277.0, 276.9, 276.85, 276.9,
                277.0, 277.6]
UW37941_FEFLOW = [276.5, 276.0, 275.9, 276.8, 277.0, 276.9, 276.9, 277.2, 277.4, 277.1,
                  277.1, 277.2, 277.3, 277.5, 277.7, 277.0, 276.4, 276.3, 276.5, 276.2,
                  276.25, 277.2, 276.8, 276.9, 277.4, 277.0, 276.6, 276.4, 276.4, 276.4,
                  276.2, 276.1, 276.0, 275.9, 275.85, 275.8, 276.0, 276.4]
UW37941_FEFLOW_MID = [276.25, 275.9, 276.1, 276.95, 276.95, 276.9, 277.05, 277.3, 277.25, 277.1,
                      277.15, 277.25, 277.4, 277.6, 277.4, 276.7, 276.35, 276.4, 276.35, 276.2,
                      276.7, 277.0, 276.85, 277.15, 277.2, 276.8, 276.5, 276.4, 276.4, 276.3,
                      276.15, 276.05, 275.95, 275.85, 275.8, 275.9]
UW37941_OBS = [277.1, 276.5, 276.2, 276.9, 277.0, 277.0, 277.0, 277.2, 277.3, 277.1,
               277.0, 277.2, 277.7, 277.7, 277.5, 277.0, 276.6, 276.6, 276.5, 276.3,
               276.3, 276.9, 276.8, 277.0, 277.2, 276.9, 276.6, 276.5, 276.5, 276.5,
               276.3, 276.25, 276.2, 276.1, 276.05, 276.0, 276.0, 276.5]
UW37941_OBS_MID = [276.8, 276.3, 276.5, 276.95, 277.0, 277.0, 277.1, 277.25, 277.2, 277.05,
                   277.1, 277.45, 277.75, 277.6, 277.25, 276.8, 276.6, 276.55, 276.4, 276.3,
                   276.6, 276.85, 276.9, 277.1, 277.05, 276.75, 276.55, 276.5, 276.5, 276.4,
                   276.3, 276.2, 276.15, 276.05, 276.0, 276.0]

UW37962_HEAD = [273.8, 274.6, 274.5, 274.45, 274.6, 275.0, 274.75, 274.8, 274.65, 274.8,
                275.0, 274.75, 275.1, 274.7, 274.95, 274.7, 274.95, 274.7, 274.9, 274.8,
                275.1, 274.85, 275.05, 274.7, 274.85, 275.3, 274.7, 274.5, 274.5, 274.5,
                274.8, 274.5, 274.5, 274.7, 275.15, 274.85, 274.6, 274.7, 275.15, 274.7,
                274.55, 274.5, 274.5, 274.75, 274.55, 274.5, 274.5, 274.4, 274.4, 274.45,
                274.55, 275.0]
UW37962_FEFLOW = [273.8, 273.4, 273.25, 274.0, 274.2, 274.1, 274.0, 274.4, 274.75, 274.2,
                  274.3, 274.5, 274.6, 274.7, 275.0, 274.2, 273.6, 273.5, 273.7, 273.5,
                  273.6, 274.5, 274.0, 274.1, 274.6, 274.2, 273.8, 273.6, 273.6, 273.7,
                  273.5, 273.4, 273.4, 273.25, 273.2, 273.1, 273.2, 273.5]
UW37962_FEFLOW_MID = [273.6, 273.3, 273.4, 274.1, 274.15, 274.05, 274.2, 274.6, 274.5, 274.25,
                      274.4, 274.55, 274.65, 274.85, 274.6, 273.9, 273.55, 273.6, 273.6, 273.55,
                      274.05, 274.25, 274.05, 274.35, 274.4, 274.0, 273.7, 273.6, 273.65, 273.6,
                      273.45, 273.4, 273.3, 273.2, 273.15, 273.15]
UW37962_OBS = [274.1, 273.8, 273.75, 274.0, 274.1, 274.05, 274.0, 274.1, 274.3, 274.0,
               274.0, 274.1, 274.5, 274.3, 274.1, 273.9, 273.85, 273.8, 273.8, 273.65,
               274.1, 274.1, 274.0, 274.2, 274.1, 273.9, 273.75, 273.7, 273.7, 273.65,
               273.6, 273.55, 273.55, 273.5, 273.5, 273.45, 273.55, 274.0]
UW37962_OBS_MID = [273.95, 273.75, 273.85, 274.05, 274.1, 274.0, 274.05, 274.2, 274.15, 274.0,
                   274.05, 274.3, 274.4, 274.2, 274.0, 273.85, 273.8, 273.8, 273.7, 273.85,
                   274.15, 274.05, 274.1, 274.15, 274.0, 273.8, 273.7, 273.7, 273.65, 273.6,
                   273.55, 273.55, 273.5, 273.5, 273.45, 273.5]

UW3798_HEAD = [272.75, 273.6, 273.5, 273.5, 273.6, 273.95, 273.7, 273.8, 273.65, 273.8,
               273.95, 273.7, 273.95, 273.6, 273.85, 273.6, 273.9, 273.6, 273.85, 273.7,
               274.05, 273.8, 273.95, 273.6, 273.75, 274.15, 273.6, 273.5, 273.5, 273.5,
               273.8, 273.5, 273.5, 273.7, 274.05, 273.8, 273.6, 273.65, 274.05, 273.7,
               273.55, 273.5, 273.5, 273.75, 273.55, 273.5, 273.55, 273.45, 273.45, 273.5,
               273.55, 273.95]
UW3798_FEFLOW = [271.85, 271.8, 271.75, 271.9, 271.95, 271.95, 271.95, 272.0, 272.05, 271.95,
                 271.95, 272.0, 272.0, 272.0, 272.05, 271.9, 271.8, 271.8, 271.85, 271.8,
                 271.8, 271.95, 271.9, 271.9, 272.0, 271.9, 271.85, 271.8, 271.8, 271.85,
                 271.8, 271.8, 271.8, 271.75, 271.75, 271.75, 271.8, 271.85]
UW3798_FEFLOW_MID = [271.8, 271.75, 271.8, 271.95, 271.95, 271.95, 272.0, 272.0, 272.0, 271.95,
                     272.0, 272.0, 272.0, 272.05, 272.0, 271.85, 271.8, 271.8, 271.8, 271.8,
                     271.9, 271.9, 271.9, 271.95, 271.95, 271.85, 271.8, 271.8, 271.85, 271.8,
                     271.8, 271.8, 271.75, 271.75, 271.75, 271.75]
UW3798_OBS = [271.8, 271.75, 271.75, 272.5, 271.85, 271.85, 271.85, 271.9, 271.95, 271.85,
              271.85, 271.9, 272.0, 272.0, 272.7, 271.85, 271.8, 271.8, 271.8, 271.8,
              271.8, 272.2, 271.9, 271.85, 272.55, 271.9, 272.4, 271.9, 271.8, 271.85,
              271.8, 271.75, 271.75, 271.75, 271.7, 271.75, 271.75, 271.8]
UW3798_OBS_MID = [271.8, 271.75, 271.8, 271.85, 271.85, 271.85, 271.9, 271.9, 271.9, 271.85,
                  271.9, 271.95, 272.0, 272.3, 272.4, 271.85, 271.8, 271.8, 271.8, 271.8,
                  271.9, 272.0, 271.85, 271.9, 272.0, 272.9, 271.9, 271.85, 271.8, 271.85,
                  271.8, 271.75, 271.75, 271.7, 271.75, 271.75]

UW38002_HEAD = [272.5, 273.1, 273.0, 272.95, 273.1, 273.5, 273.25, 273.3, 273.15, 273.3,
                273.45, 273.25, 273.55, 273.2, 273.4, 273.2, 273.4, 273.2, 273.35, 273.25,
                273.55, 273.3, 273.5, 273.2, 273.3, 273.7, 273.2, 273.0, 273.0, 273.0,
                273.3, 273.0, 273.0, 273.2, 273.6, 273.3, 273.1, 273.2, 273.6, 273.2,
                273.05, 273.0, 273.0, 273.2, 273.05, 273.0, 273.0, 272.95, 272.95, 273.0,
                273.1, 273.5]
UW38002_FEFLOW = [271.7, 271.35, 271.2, 271.9, 272.1, 272.0, 271.9, 272.3, 272.6, 272.0,
                  272.1, 272.3, 272.5, 272.6, 272.9, 272.1, 271.55, 271.5, 271.6, 271.5,
                  271.5, 272.5, 272.0, 272.1, 272.6, 272.2, 271.8, 271.6, 271.7, 271.7,
                  271.5, 271.4, 271.35, 271.25, 271.2, 271.15, 271.2, 271.5]
UW38002_FEFLOW_MID = [271.5, 271.25, 271.4, 272.0, 272.05, 271.95, 272.1, 272.5, 272.3, 272.05,
                      272.2, 272.4, 272.55, 272.75, 272.6, 271.8, 271.5, 271.55, 271.55, 271.5,
                      272.0, 272.25, 272.05, 272.35, 272.45, 272.0, 271.7, 271.65, 271.7, 271.6,
                      271.45, 271.4, 271.3, 271.2, 271.15, 271.15]
UW38002_OBS = [271.9, 271.4, 271.3, 271.9, 271.9, 271.7, 271.7, 272.0, 272.1, 271.7,
               271.7, 271.9, 272.2, 272.0, 271.8, 271.6, 271.5, 271.4, 271.4, 271.4,
               271.7, 272.0, 271.8, 271.85, 271.9, 271.7, 271.5, 271.45, 271.4, 271.4,
               271.35, 271.3, 271.25, 271.2, 271.2, 271.15, 271.2, 271.5]
UW38002_OBS_MID = [271.6, 271.35, 271.5, 271.9, 271.8, 271.7, 271.85, 272.05, 271.9, 271.7,
                   271.8, 272.05, 272.1, 271.9, 271.7, 271.55, 271.45, 271.4, 271.4, 271.5,
                   271.85, 271.9, 271.8, 271.9, 271.8, 271.6, 271.5, 271.4, 271.4, 271.35,
                   271.3, 271.25, 271.2, 271.2, 271.15, 271.15]

UW3802_HEAD = [276.3, 277.3, 277.2, 277.1, 277.3, 277.8, 277.5, 277.6, 277.4, 277.6,
               277.8, 277.5, 277.9, 277.4, 277.7, 277.4, 277.7, 277.45, 277.65, 277.5,
               277.9, 277.6, 277.85, 277.4, 277.6, 278.2, 277.5, 277.2, 277.2, 277.2,
               277.6, 277.2, 277.2, 277.4, 278.0, 277.6, 277.3, 277.4, 278.0, 277.5,
               277.25, 277.2, 277.2, 277.5, 277.25, 277.15, 277.2, 277.1, 277.05, 277.1,
               277.3, 277.8]
UW3802_FEFLOW = [274.6, 274.4, 274.35, 274.8, 274.9, 274.85, 274.8, 275.0, 275.15, 274.85,
                 274.9, 275.0, 275.1, 275.15, 275.35, 274.9, 274.5, 274.45, 274.55, 274.4,
                 274.45, 275.0, 274.75, 274.8, 275.1, 274.85, 274.6, 274.5, 274.5, 274.55,
                 274.4, 274.35, 274.35, 274.25, 274.2, 274.2, 274.3, 274.6]
UW3802_FEFLOW_MID = [274.5, 274.35, 274.5, 274.85, 274.9, 274.8, 274.9, 275.1, 275.0, 274.85,
                     274.95, 275.05, 275.1, 275.25, 275.15, 274.7, 274.45, 274.5, 274.5, 274.4,
                     274.75, 274.9, 274.75, 274.95, 275.0, 274.7, 274.55, 274.5, 274.5, 274.45,
                     274.35, 274.35, 274.3, 274.2, 274.2, 274.25]
UW3802_OBS = [275.1, 274.8, 274.7, 274.95, 275.1, 275.0, 275.0, 275.1, 275.2, 275.0,
              275.05, 275.2, 275.6, 275.3, 275.2, 275.0, 274.8, 274.8, 274.85, 274.7,
              274.9, 275.1, 274.95, 275.0, 275.1, 274.9, 274.7, 274.65, 274.6, 274.6,
              274.5, 274.45, 274.4, 274.35, 274.3, 274.3, 274.35, 274.8]
UW3802_OBS_MID = [274.95, 274.75, 274.8, 275.05, 275.05, 275.0, 275.05, 275.15, 275.1, 275.0,
                  275.1, 275.4, 275.45, 275.25, 275.1, 274.9, 274.8, 274.85, 274.75, 274.8,
                  275.0, 275.0, 275.0, 275.05, 275.0, 274.8, 274.7, 274.6, 274.6, 274.55,
                  274.45, 274.4, 274.4, 274.3, 274.3, 274.3]

UW3806_HEAD = [271.7, 272.8, 272.7, 272.7, 272.85, 273.3, 273.0, 273.1, 272.9, 273.1,
               273.3, 273.0, 273.35, 272.9, 273.15, 272.9, 273.2, 272.95, 273.15, 273.0,
               273.45, 273.1, 273.4, 272.9, 273.1, 273.55, 272.95, 272.75, 272.75, 272.75,
               273.1, 272.75, 272.75, 272.95, 273.45, 273.1, 272.85, 272.95, 273.45, 272.95,
               272.8, 272.75, 272.75, 273.0, 272.8, 272.75, 272.75, 272.7, 272.65, 272.7,
               272.85, 273.35]
UW3806_FEFLOW = [271.75, 271.4, 271.2, 272.0, 272.1, 271.95, 271.9, 272.4, 272.8, 272.1,
                 272.3, 272.4, 272.7, 272.8, 272.95, 272.2, 271.7, 271.55, 271.7, 271.5,
                 271.6, 272.8, 272.1, 272.2, 272.85, 272.6, 272.0, 271.7, 271.65, 271.75,
                 271.5, 271.4, 271.35, 271.25, 271.15, 271.05, 271.1, 271.3]
UW3806_FEFLOW_MID = [271.55, 271.3, 271.4, 272.1, 272.0, 271.9, 272.15, 272.6, 272.45, 272.2,
                     272.35, 272.55, 272.75, 272.9, 272.6, 271.9, 271.6, 271.6, 271.6, 271.5,
                     272.2, 272.45, 272.15, 272.55, 272.75, 272.3, 271.85, 271.7, 271.7, 271.6,
                     271.45, 271.35, 271.3, 271.2, 271.1, 271.05]
UW3806_OBS = [272.1, 271.7, 271.45, 272.1, 272.1, 271.95, 271.85, 272.1, 272.2, 271.85,
              271.9, 272.0, 272.4, 272.2, 272.15, 271.85, 271.7, 271.6, 271.75, 271.55,
              272.05, 272.1, 271.9, 272.1, 272.2, 271.9, 271.7, 271.6, 271.7, 271.6,
              271.5, 271.4, 271.3, 271.35, 271.3, 271.3, 271.45, 271.95]
UW3806_OBS_MID = [271.9, 271.55, 271.75, 272.15, 272.0, 271.9, 272.0, 272.15, 272.0, 271.9,
                  271.95, 272.2, 272.3, 272.2, 272.0, 271.75, 271.65, 271.7, 271.65, 271.8,
                  272.1, 272.0, 272.0, 272.15, 272.05, 271.8, 271.65, 271.65, 271.65, 271.55,
                  271.45, 271.35, 271.3, 271.3, 271.3, 271.35]

UW38066_HEAD = [270.45, 271.95, 271.8, 271.75, 271.9, 272.4, 272.1, 272.2, 272.0, 272.15,
                272.4, 272.05, 272.4, 272.0, 272.2, 272.0, 272.2, 272.0, 272.15, 272.05,
                272.5, 272.15, 272.45, 272.0, 272.15, 272.6, 272.0, 271.8, 271.8, 271.8,
                272.15, 271.8, 271.8, 272.0, 272.5, 272.15, 271.9, 272.0, 272.5, 272.0,
                271.85, 271.8, 271.8, 272.05, 271.85, 271.8, 271.8, 271.75, 271.7, 271.75,
                271.9, 272.5]
UW38066_FEFLOW = [270.3, 270.1, 270.0, 270.5, 270.6, 270.5, 270.5, 270.8, 271.1, 270.6,
                  270.7, 270.8, 270.9, 271.0, 271.2, 270.6, 270.3, 270.25, 270.3, 270.2,
                  270.25, 270.9, 270.6, 270.7, 271.0, 270.7, 270.4, 270.3, 270.3, 270.3,
                  270.15, 270.05, 270.0, 269.95, 269.85, 269.8, 269.85, 270.1]
UW38066_FEFLOW_MID = [270.2, 270.05, 270.2, 270.55, 270.55, 270.5, 270.65, 270.95, 270.85, 270.65,
                      270.75, 270.85, 270.95, 271.1, 270.9, 270.45, 270.3, 270.3, 270.25, 270.2,
                      270.6, 270.75, 270.65, 270.85, 270.85, 270.55, 270.35, 270.3, 270.3, 270.2,
                      270.1, 270.0, 269.95, 269.9, 269.8, 269.8]
UW38066_OBS = [270.5, 270.1, 270.0, 270.6, 270.7, 270.5, 270.4, 270.6, 270.7, 270.4,
               270.5, 270.6, 271.0, 270.8, 270.6, 270.4, 270.25, 270.2, 270.3, 270.15,
               270.3, 270.8, 270.5, 270.8, 270.8, 270.4, 270.2, 270.2, 270.3, 270.2,
               nan, nan, nan, nan, nan, nan, 270.0, 270.5]
UW38066_OBS_MID = [270.3, 270.05, 270.3, 270.65, 270.6, 270.45, 270.5, 270.65, 270.55, 270.45,
                   270.55, 270.8, 270.9, 270.7, 270.5, 270.3, 270.2, 270.25, 270.2, 270.2,
                   270.55, 270.65, 270.65, 270.8, 270.6, 270.3, 270.2, 270.25, 270.25, nan,
                   nan, nan, nan, nan, nan, nan]

UW38067_HEAD = [270.7, 271.8, 271.75, 271.7, 271.9, 272.35, 272.1, 272.15, 272.0, 272.15,
                272.35, 272.05, 272.4, 272.0, 272.2, 272.0, 272.25, 272.0, 272.2, 272.1,
                272.5, 272.15, 272.4, 272.0, 272.15, 272.6, 272.0, 271.8, 271.75, 271.8,
                272.15, 271.8, 271.8, 272.0, 272.5, 272.1, 271.9, 272.0, 272.5, 272.0,
                271.85, 271.8, 271.8, 272.05, 271.85, 271.75, 271.8, 271.7, 271.65, 271.7,
                271.9, 272.4]
UW38067_FEFLOW = [270.8, 270.3, 270.15, 270.8, 271.1, 270.9, 270.9, 271.3, 271.6, 271.0,
                  271.1, 271.4, 271.5, 271.6, 271.75, 271.0, 270.45, 270.35, 270.55, 270.3,
                  270.4, 271.4, 270.9, 271.0, 271.5, 271.0, 270.7, 270.5, 270.5, 270.6,
                  270.35, 270.3, 270.2, 270.1, 270.0, 269.95, 270.0, 270.4]
UW38067_FEFLOW_MID = [270.5, 270.2, 270.35, 271.0, 271.0, 270.9, 271.1, 271.5, 271.3, 271.05,
                      271.25, 271.45, 271.55, 271.7, 271.4, 270.7, 270.4, 270.45, 270.45, 270.35,
                      270.9, 271.15, 270.95, 271.25, 271.25, 270.85, 270.6, 270.5, 270.55, 270.45,
                      270.3, 270.25, 270.15, 270.05, 269.95, 269.95]
UW38067_OBS = [nan, nan, nan, nan, nan, nan, nan, nan, nan, nan,
               nan, nan, nan, nan, nan, nan, nan, nan, nan, nan,
               nan, nan, 271.1, 271.2, 271.4, 270.9, 270.6, 270.6, 270.5, 270.5,
               270.4, 270.3, 270.3, 270.25, 270.2, 270.25, 270.4, 270.9]
UW38067_OBS_MID = [nan, nan, nan, nan, nan, nan, nan, nan, nan, nan,
                   nan, nan, nan, nan, nan, nan, nan, nan, nan, nan,
                   nan, nan, 271.15, 271.3, 271.15, 270.75, 270.6, 270.55, 270.5, 270.45,
                   270.35, 270.3, 270.3, 270.2, 270.2, 270.3]

UW3808_HEAD = [271.0, 272.1, 272.05, 272.0, 272.1, 272.5, 272.3, 272.35, 272.2, 272.3,
               272.45, 272.25, 272.5, 272.2, 272.35, 272.15, 272.4, 272.2, 272.3, 272.2,
               272.55, 272.3, 272.5, 272.15, 272.3, 272.7, 272.2, 272.05, 272.05, 272.05,
               272.3, 272.05, 272.05, 272.2, 272.55, 272.3, 272.1, 272.2, 272.6, 272.2,
               272.1, 272.05, 272.05, 272.25, 272.1, 272.05, 272.05, 272.0, 272.0, 272.05,
               272.15, 272.55]
UW3808_FEFLOW = [270.5, 270.45, 270.2, 270.5, 270.8, 270.7, 270.6, 271.0, 271.25, 270.8,
                 270.9, 271.0, 271.05, 271.1, 271.35, 270.8, 270.5, 270.5, 270.6, 270.4,
                 270.45, 271.1, 270.8, 270.9, 271.1, 270.9, 270.7, 270.6, 270.55, 270.5,
                 270.45, 270.4, 270.35, 270.3, 270.25, 270.25, 270.4, 270.5]
UW3808_FEFLOW_MID = [270.5, 270.3, 270.3, 270.65, 270.75, 270.65, 270.8, 271.15, 271.0, 270.85,
                     270.95, 271.0, 271.1, 271.25, 271.1, 270.65, 270.5, 270.55, 270.5, 270.4,
                     270.8, 270.95, 270.85, 271.0, 271.0, 270.8, 270.65, 270.55, 270.5, 270.5,
                     270.4, 270.4, 270.3, 270.25, 270.25, 270.3]
UW3808_OBS = [270.6, 270.2, 270.1, 270.5, 270.55, 270.4, 270.4, 270.5, 270.6, 270.4,
              270.4, 270.35, 270.9, 270.6, 270.5, 270.3, 270.25, 270.25, 270.3, 270.2,
              270.45, 270.55, 270.3, 270.45, 270.65, 270.4, 270.3, 270.2, 270.15, 270.25,
              270.2, 270.1, 270.05, 270.1, 270.05, 270.1, 270.15, 270.6]
UW3808_OBS_MID = [270.4, 270.1, 270.3, 270.55, 270.45, 270.4, 270.45, 270.55, 270.5, 270.4,
                  270.35, 270.7, 270.75, 270.55, 270.4, 270.25, 270.25, 270.3, 270.25, 270.35,
                  270.5, 270.4, 270.4, 270.6, 270.5, 270.35, 270.25, 270.15, 270.2, 270.2,
                  270.15, 270.05, 270.1, 270.1, 270.05, 270.1]

UW38085_HEAD = [269.3, 270.7, 270.65, 270.6, 270.75, 271.1, 270.85, 270.95, 270.8, 270.95,
                271.15, 270.85, 271.1, 270.8, 271.0, 270.8, 271.05, 270.85, 270.95, 270.9,
                271.3, 270.95, 271.2, 270.8, 270.9, 271.3, 270.85, 270.65, 270.6, 270.65,
                270.9, 270.65, 270.6, 270.85, 271.2, 270.95, 270.75, 270.85, 271.25, 270.8,
                270.7, 270.65, 270.6, 270.85, 270.7, 270.6, 270.6, 270.5, 270.5, 270.55,
                270.75, 271.3]
UW38085_FEFLOW = [269.2, 269.0, 268.8, 268.9, 269.5, 269.6, 269.5, 269.8, 270.05, 269.7,
                  269.8, 269.85, 269.9, 270.0, 270.2, 269.6, 269.1, 269.0, 269.15, 268.95,
                  269.0, 270.0, 269.5, 269.6, 270.05, 269.7, 269.3, 269.05, 269.1, 269.2,
                  268.95, 268.85, 268.8, 268.7, 268.65, 268.6, 268.75, 269.1]
UW38085_FEFLOW_MID = [269.1, 268.9, 268.8, 269.3, 269.55, 269.55, 269.65, 269.95, 269.9, 269.75,
                      269.8, 269.9, 269.95, 270.1, 269.95, 269.35, 269.05, 269.1, 269.05, 268.95,
                      269.5, 269.75, 269.55, 269.85, 269.9, 269.5, 269.15, 269.05, 269.15, 269.05,
                      268.9, 268.8, 268.75, 268.7, 268.6, 268.65]
UW38085_OBS = [269.2, 268.8, 268.45, 268.7, 269.5, 269.35, 269.2, 269.5, 269.6, 269.1,
               269.3, 269.2, 269.9, 269.7, 269.6, 269.0, 269.0, 268.9, 269.0, 268.8,
               269.5, 269.9, 269.5, 269.4, 269.8, 269.4, 269.1, 268.8, 269.0, 269.1,
               268.85, 268.7, 268.75, 268.65, 268.6, 268.65, 268.7, 269.4]
UW38085_OBS_MID = [269.0, 268.6, 268.5, 269.1, 269.45, 269.25, 269.35, 269.55, 269.3, 269.2,
                   269.25, 269.6, 269.85, 269.65, 269.3, 269.0, 268.95, 268.95, 268.9, 269.1,
                   269.75, 269.7, 269.45, 269.6, 269.6, 269.25, 268.95, 268.9, 269.05, 268.95,
                   268.75, 268.7, 268.7, 268.6, 268.6, 268.7]

UW38088_HEAD = [269.4, 270.65, 270.6, 270.55, 270.7, 271.1, 270.85, 270.95, 270.75, 270.95,
                271.15, 270.85, 271.1, 270.8, 271.0, 270.8, 271.05, 270.85, 270.95, 270.9,
                271.25, 270.95, 271.2, 270.8, 270.9, 271.25, 270.8, 270.6, 270.6, 270.6,
                270.9, 270.6, 270.6, 270.8, 271.2, 270.9, 270.7, 270.8, 271.2, 270.8,
                270.65, 270.6, 270.6, 270.8, 270.65, 270.55, 270.55, 270.5, 270.45, 270.5,
                270.7, 271.3]
UW38088_FEFLOW = [269.3, 269.05, 268.85, 268.95, 269.55, 269.6, 269.55, 269.85, 270.1, 269.75,
                  269.8, 269.85, 269.95, 270.05, 270.3, 269.7, 269.15, 269.05, 269.2, 269.0,
                  269.05, 270.0, 269.55, 269.65, 270.1, 269.75, 269.35, 269.1, 269.15, 269.25,
                  269.0, 268.9, 268.85, 268.75, 268.7, 268.65, 268.8, 269.2]
UW38088_FEFLOW_MID = [269.15, 268.95, 268.85, 269.35, 269.6, 269.55, 269.7, 270.0, 269.95, 269.75,
                      269.85, 269.9, 270.0, 270.2, 270.0, 269.4, 269.1, 269.15, 269.1, 269.0,
                      269.5, 269.8, 269.6, 269.9, 269.95, 269.55, 269.2, 269.1, 269.2, 269.1,
                      268.95, 268.85, 268.8, 268.7, 268.65, 268.7]
UW38088_OBS = [269.4, 268.9, 268.45, 268.75, 269.5, 269.4, 269.2, 269.55, 269.65, 269.15,
               269.3, 269.25, 270.0, 269.75, 269.65, 269.05, 269.0, 268.95, 269.05, 268.85,
               269.5, 269.9, 269.5, 269.45, 269.85, 269.45, 269.15, 268.85, 269.05, 269.15,
               268.9, 268.75, 268.8, 268.7, 268.65, 268.6, 268.7, 269.4]
UW38088_OBS_MID = [269.15, 268.65, 268.55, 269.15, 269.45, 269.3, 269.4, 269.6, 269.4, 269.2,
                   269.3, 269.65, 269.9, 269.7, 269.35, 269.0, 269.0, 269.0, 268.95, 269.15,
                   269.75, 269.7, 269.5, 269.65, 269.65, 269.3, 269.0, 268.95, 269.1, 269.0,
                   268.8, 268.75, 268.75, 268.65, 268.6, 268.65]

HEADS = [UW37685_HEAD, UW3778_HEAD, UW3780_HEAD, UW37801_HEAD,
         UW37843_HEAD, UW3786_HEAD, UW37861_HEAD, UW37864_HEAD,
         UW3788_HEAD, UW3790_HEAD, UW37903_HEAD, UW37905_HEAD,
         UW3792_HEAD, UW37941_HEAD, UW37962_HEAD, UW3798_HEAD,
         UW38002_HEAD, UW3802_HEAD, UW3806_HEAD, UW38066_HEAD,
         UW38067_HEAD, UW3808_HEAD, UW38085_HEAD, UW38088_HEAD]
FEFLOWS = [UW37685_FEFLOW, UW3778_FEFLOW, UW3780_FEFLOW, UW37801_FEFLOW,
           UW37843_FEFLOW, UW3786_FEFLOW, UW37861_FEFLOW, UW37864_FEFLOW,
           UW3788_FEFLOW, UW3790_FEFLOW, UW37903_FEFLOW, UW37905_FEFLOW,
           UW3792_FEFLOW, UW37941_FEFLOW, UW37962_FEFLOW, UW3798_FEFLOW,
           UW38002_FEFLOW, UW3802_FEFLOW, UW3806_FEFLOW, UW38066_FEFLOW,
           UW38067_FEFLOW, UW3808_FEFLOW, UW38085_FEFLOW, UW38088_FEFLOW]
FEFLOWS_MID = [UW37685_FEFLOW_MID, UW3778_FEFLOW_MID, UW3780_FEFLOW_MID, UW37801_FEFLOW_MID,
               UW37843_FEFLOW_MID, UW3786_FEFLOW_MID, UW37861_FEFLOW_MID, UW37864_FEFLOW_MID,
               UW3788_FEFLOW_MID, UW3790_FEFLOW_MID, UW37903_FEFLOW_MID, UW37905_FEFLOW_MID,
               UW3792_FEFLOW_MID, UW37941_FEFLOW_MID, UW37962_FEFLOW_MID, UW3798_FEFLOW_MID,
               UW38002_FEFLOW_MID, UW3802_FEFLOW_MID, UW3806_FEFLOW_MID, UW38066_FEFLOW_MID,
               UW38067_FEFLOW_MID, UW3808_FEFLOW_MID, UW38085_FEFLOW_MID, UW38088_FEFLOW_MID]
OBSERVED = [UW37685_OBS, UW3778_OBS, UW3780_OBS, UW37801_OBS,
            UW37843_OBS, UW3786_OBS, UW37861_OBS, UW37864_OBS,
            UW3788_OBS, UW3790_OBS, UW37903_OBS, UW37905_OBS,
            UW3792_OBS, UW37941_OBS, UW37962_OBS, UW3798_OBS,
            UW38002_OBS, UW3802_OBS, UW3806_OBS, UW38066_OBS,
            UW38067_OBS, UW3808_OBS, UW38085_OBS, UW38088_OBS]
OBSERVED_MID = [UW37685_OBS_MID, UW3778_OBS_MID, UW3780_OBS_MID, UW37801_OBS_MID,
                UW37843_OBS_MID, UW3786_OBS_MID, UW37861_OBS_MID, UW37864_OBS_MID,
                UW3788_OBS_MID, UW3790_OBS_MID, UW37903_OBS_MID, UW37905_OBS_MID,
                UW3792_OBS_MID, UW37941_OBS_MID, UW37962_OBS_MID, UW3798_OBS_MID,
                UW38002_OBS_MID, UW3802_OBS_MID, UW3806_OBS_MID, UW38066_OBS_MID,
                UW38067_OBS_MID, UW3808_OBS_MID, UW38085_OBS_MID, UW38088_OBS_MID]

# ---------------------------------------------------------------- styling
FONT = "Liberation Serif"
GROUND_COLOR = "#bcbd22"
BOTTOM_COLOR = "#2ca02c"
SIM_COLOR = "#bf00bf"
OBS_COLOR = "#ff0000"
HEAD_COLOR = "#000000"
DASHDOT = "9 3 2 3"
SIM_SIZE = 10
OBS_SIZE = 7

NCOLS = 4
FRAME_W, FRAME_H = 254, 234
BORDER_TOP = 34
ROW_HEIGHTS = [281, 281, 281, 280, 280, 305]
X_LO, X_HI = -183, 3834


def style_axis(ax, show_labels=True):
    ax.axis_line_color = None
    ax.major_tick_line_color = "#222222"
    ax.major_tick_line_width = 1
    ax.major_tick_out = 6
    ax.major_tick_in = 0
    ax.minor_tick_line_color = None
    ax.major_label_standoff = 3
    ax.major_label_text_font = FONT
    ax.major_label_text_font_size = "18px" if show_labels else "1px"
    ax.major_label_text_color = "#111111"


def make_panel(i):
    r, c = divmod(i, NCOLS)
    left = 61 if c == 0 else 51
    height = ROW_HEIGHTS[r]
    bottom_row = r == len(ROW_HEIGHTS) - 1
    head = HEADS[i]
    sim, sim_mid = FEFLOWS[i], FEFLOWS_MID[i]
    obs, obs_mid = OBSERVED[i], OBSERVED_MID[i]
    assert len(head) == len(T_HEAD)
    assert len(sim) == len(T_PTS) and len(sim_mid) == len(T_MID)
    assert len(obs) in (0, len(T_PTS)) and len(obs_mid) in (0, len(T_MID))

    sim_t, sim_v = T_PTS + T_MID, sim + sim_mid
    obs_t = (T_PTS if obs else []) + (T_MID if obs_mid else [])
    obs_v = obs + obs_mid

    seen = [v for v in obs_v if not math.isnan(v)]
    values = [GROUND[i], BOTTOM[i]] + head + sim_v + seen
    lo, hi = min(values), max(values)
    pad = 0.05 * (hi - lo)

    p = figure(width=left + FRAME_W, height=height,
               output_backend="svg", toolbar_location=None,
               x_range=Range1d(X_LO, X_HI), y_range=Range1d(lo - pad, hi + pad),
               min_border_left=left, min_border_right=0,
               min_border_top=BORDER_TOP,
               min_border_bottom=height - BORDER_TOP - FRAME_H,
               title=f"{WELLS[i]}; RMSE: {RMSE[i]}")
    p.title.align = "right"
    p.title.text_font = FONT
    p.title.text_font_size = "21px"
    p.title.text_font_style = "normal"
    p.title.text_color = "#111111"
    p.title.standoff = 9
    p.grid.visible = False
    p.outline_line_color = "#222222"
    p.outline_line_width = 1
    p.background_fill_color = "white"
    p.border_fill_color = "white"

    p.xaxis.ticker = FixedTicker(ticks=XTICKS)
    style_axis(p.xaxis[0], show_labels=bottom_row)
    if not bottom_row:
        # shared time axis: tick marks only, numbers on the bottom row
        p.xaxis.formatter = CustomJSTickFormatter(code="return ''")
    p.yaxis.ticker = FixedTicker(ticks=[float(s) for s in YTICKS[i]])
    decimals = "%.1f" if "." in YTICKS[i][0] else "%.0f"
    p.yaxis.formatter = PrintfTickFormatter(format=decimals)
    style_axis(p.yaxis[0])

    span = [T_HEAD[0], T_HEAD[-1]]
    p.line(span, [GROUND[i], GROUND[i]], line_color=GROUND_COLOR,
           line_width=1.5, line_dash=DASHDOT)
    p.line(span, [BOTTOM[i], BOTTOM[i]], line_color=BOTTOM_COLOR,
           line_width=1.5, line_dash=DASHDOT)
    p.scatter(sim_t, sim_v, marker="triangle", size=SIM_SIZE, color=SIM_COLOR)
    if obs_t:
        p.scatter(obs_t, obs_v, marker="circle", size=OBS_SIZE, color=OBS_COLOR)
    p.line(T_HEAD, head, line_color=HEAD_COLOR, line_width=1.8)
    return p


panels = [make_panel(i) for i in range(len(WELLS))]
rows = [row(*panels[k:k + NCOLS]) for k in range(0, len(panels), NCOLS)]

# ---------------------------------------------------------------- shared legend
# sample glyphs sit outside the visible range, only their legend swatches show
leg = figure(width=1230, height=36, output_backend="svg", toolbar_location=None,
             x_range=Range1d(0, 1), y_range=Range1d(0, 1),
             x_axis_location=None, y_axis_location=None, min_border=0)
leg.grid.visible = False
leg.outline_line_color = None
off_x, off_y = [-5, -4], [-5, -5]
r_ground = leg.line(off_x, off_y, line_color=GROUND_COLOR, line_width=1.5, line_dash=DASHDOT)
r_bottom = leg.line(off_x, off_y, line_color=BOTTOM_COLOR, line_width=1.5, line_dash=DASHDOT)
r_sim = leg.scatter(off_x, off_y, marker="triangle", size=8, color=SIM_COLOR)
r_obs = leg.scatter(off_x, off_y, marker="circle", size=6, color=OBS_COLOR)
r_head = leg.line(off_x, off_y, line_color=HEAD_COLOR, line_width=1.8)
legend = Legend(items=[LegendItem(label="ground level", renderers=[r_ground]),
                       LegendItem(label="bottom", renderers=[r_bottom]),
                       LegendItem(label="feflow", renderers=[r_sim]),
                       LegendItem(label="observed", renderers=[r_obs]),
                       LegendItem(label="hydr. head", renderers=[r_head])],
                orientation="horizontal", location=(364, -8),
                glyph_width=40, glyph_height=18, label_standoff=14, spacing=36,
                padding=6, margin=0,
                label_text_font=FONT, label_text_font_size="18px",
                label_text_color="#111111",
                border_line_color="#cccccc", border_line_width=1,
                background_fill_color="white", background_fill_alpha=1.0)
leg.add_layout(legend, "center")

layout = column(*rows, leg)

with open("out.html", "w") as fh:
    fh.write(file_html(layout, INLINE))
